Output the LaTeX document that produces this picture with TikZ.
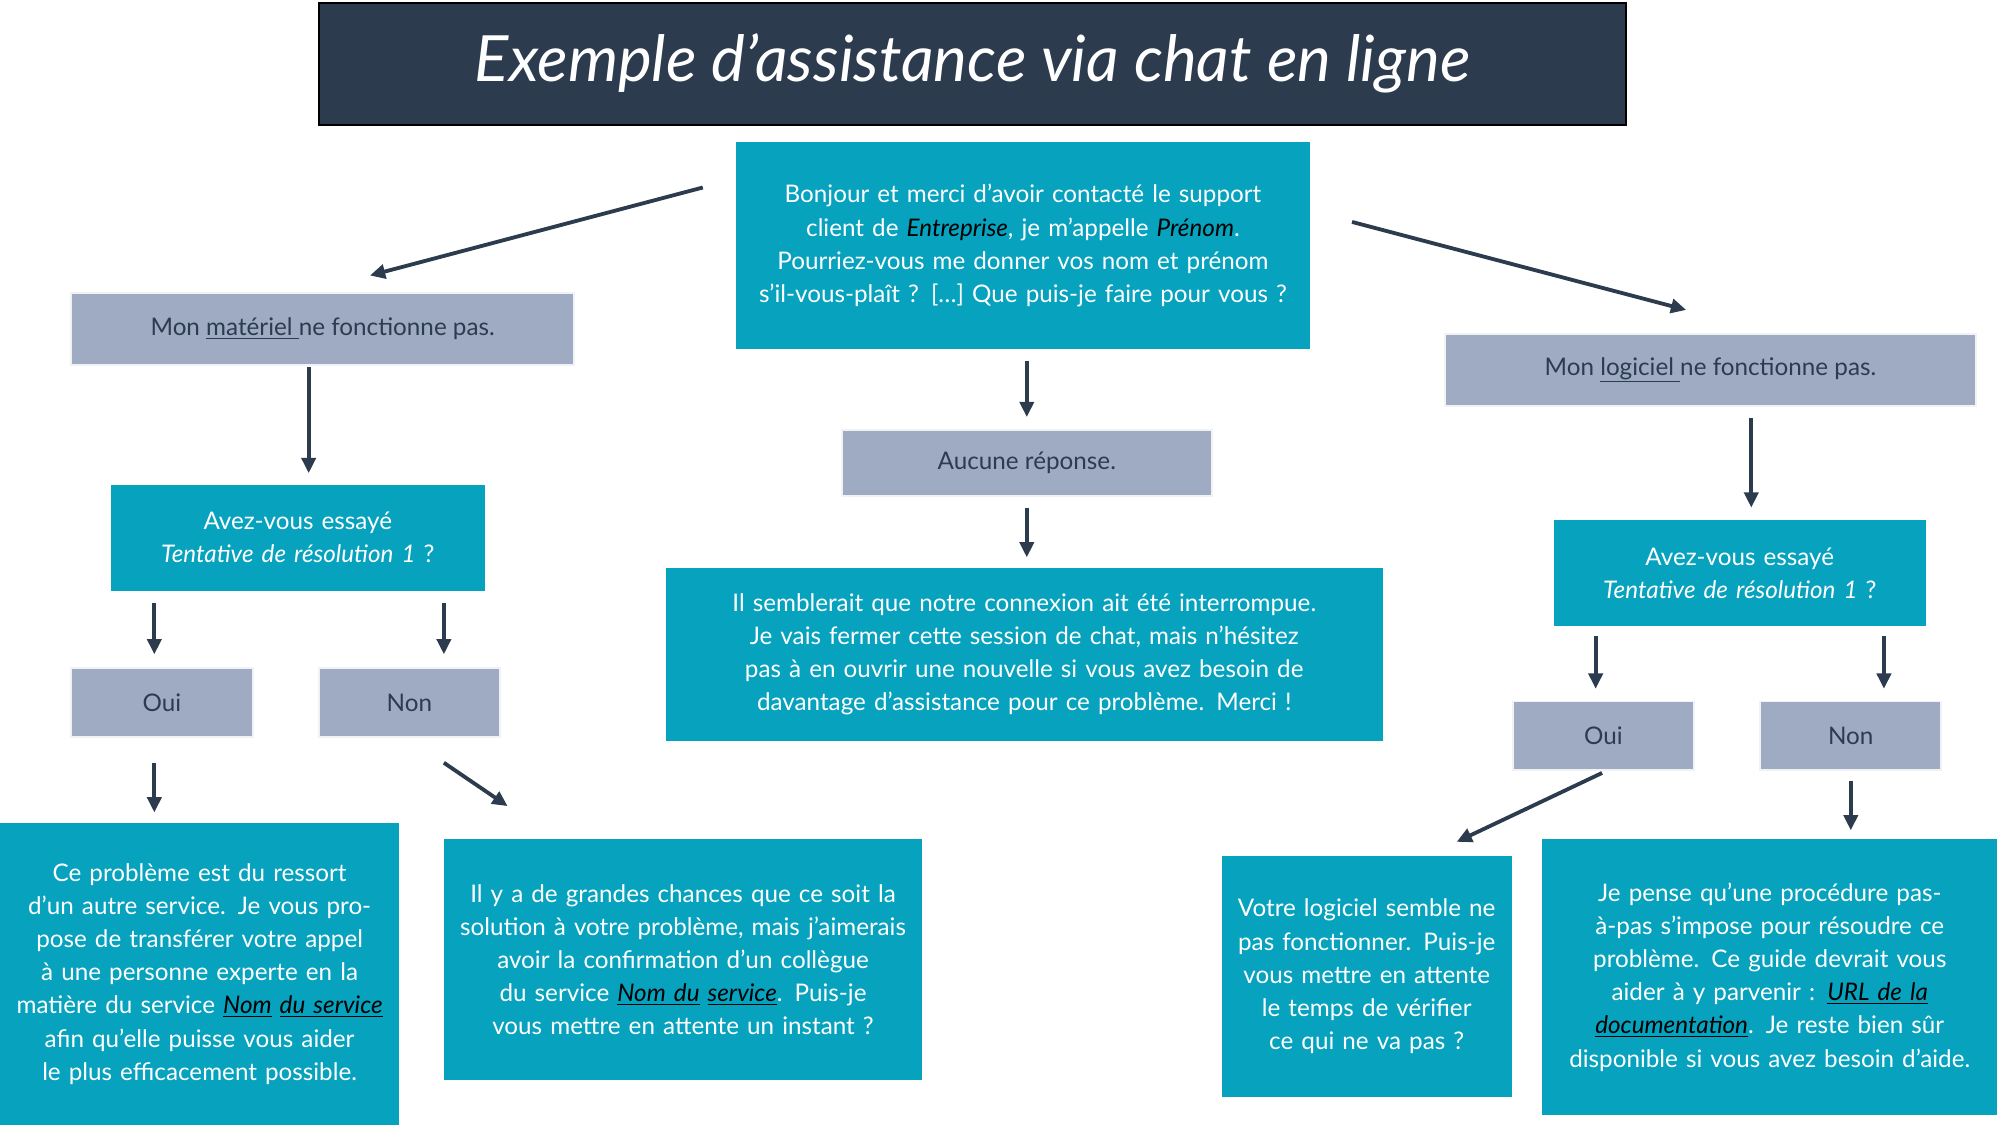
\documentclass[tikz,border=0pt]{standalone}
\usepackage{fontspec}
\setmainfont{Lato}
\usetikzlibrary{arrows.meta}
\definecolor{navy}{HTML}{2D3B4F}
\definecolor{tealb}{HTML}{06A2BE}
\definecolor{greyb}{HTML}{9EABC3}
\begin{document}
\begin{tikzpicture}[x=1pt,y=-1pt,
  box/.style={rectangle,inner sep=4pt,align=center,font=\fontsize{19}{26}\selectfont},
  tb/.style={box,fill=tealb,text=white},
  gb/.style={box,fill=greyb,text=navy,draw=white!85!greyb,line width=1.5pt},
  arr/.style={-{Triangle[length=12pt,width=11pt]},line width=3pt,draw=navy}]
\useasboundingbox (0,0) rectangle (1568,882);
\fill[white] (0,0) rectangle (1568,882);
\node[rectangle,fill=navy,draw=black,line width=1.5pt,minimum width=1025pt,minimum height=96pt,text=white,font=\fontsize{50}{60}\selectfont\itshape] (title) at (762.5,50) {Exemple d’assistance via chat en ligne};
\node[tb,minimum width=450pt,minimum height=163pt,text width=430pt] (top) at (802,192.5) {Bonjour et merci d’avoir contacté le support client de \textcolor{black}{\textit{Entreprise}}, je m’appelle \textcolor{black}{\textit{Prénom}}. Pourriez-vous me donner vos nom et prénom s’il-vous-plaît ? […] Que puis-je faire pour vous ?};
\node[gb,minimum width=394pt,minimum height=56pt] (mat) at (253,258) {Mon \underline{matériel }ne fonctionne pas.};
\node[gb,minimum width=416pt,minimum height=56pt] (log) at (1341,290) {Mon \underline{logiciel }ne fonctionne pas.};
\node[gb,minimum width=290pt,minimum height=52pt] (auc) at (805,363) {Aucune réponse.};
\node[tb,minimum width=293pt,minimum height=83pt,text width=280pt] (avL) at (233.5,421.5) {Avez-vous essayé\\\textit{Tentative de résolution 1} ?};
\node[tb,minimum width=292pt,minimum height=83pt,text width=280pt] (avR) at (1364,449.5) {Avez-vous essayé\\\textit{Tentative de résolution 1} ?};
\node[tb,minimum width=562pt,minimum height=136pt,text width=545pt] (sem) at (803,513) {Il semblerait que notre connexion ait été interrompue. Je vais fermer cette session de chat, mais n’hésitez pas à en ouvrir une nouvelle si vous avez besoin de davantage d’assistance pour ce problème. Merci !};
\node[gb,minimum width=142pt,minimum height=54pt] (ouiL) at (127,551) {Oui};
\node[gb,minimum width=142pt,minimum height=54pt] (nonL) at (321,551) {Non};
\node[gb,minimum width=142pt,minimum height=54pt] (ouiR) at (1257,577) {Oui};
\node[gb,minimum width=142pt,minimum height=54pt] (nonR) at (1451,577) {Non};
\node[tb,minimum width=313pt,minimum height=237pt,text width=305pt] (ce) at (156.5,763.5) {Ce problème est du ressort d’un autre service. Je vous propose de transférer votre appel à une personne experte en la matière du service \textcolor{black}{\textit{\underline{Nom}}} \textcolor{black}{\textit{\underline{du service}}} afin qu’elle puisse vous aider le plus efficacement possible.};
\node[tb,minimum width=375pt,minimum height=189pt,text width=355pt] (ilya) at (535.5,752.5) {Il y a de grandes chances que ce soit la solution à votre problème, mais j’aimerais avoir la confirmation d’un collègue du service \textcolor{black}{\textit{\underline{Nom du}}} \textcolor{black}{\textit{\underline{service}}}. Puis-je vous mettre en attente un instant ?};
\node[tb,minimum width=227pt,minimum height=189pt,text width=215pt] (votre) at (1071.5,765.5) {Votre logiciel semble ne pas fonctionner. Puis-je vous mettre en attente le temps de vérifier ce qui ne va pas ?};
\node[tb,minimum width=357pt,minimum height=216pt,text width=340pt] (je) at (1387.5,766) {Je pense qu’une procédure pas-à-pas s’impose pour résoudre ce problème. Ce guide devrait vous aider à y parvenir : \textcolor{black}{\textit{\underline{URL de la}}} \textcolor{black}{\textit{\underline{documentation}}}. Je reste bien sûr disponible si vous avez besoin d’aide.};
\draw[arr] (551,147) -- (290,216);
\draw[arr] (1060,174) -- (1322,243);
\draw[arr] (805,283) -- (805,327);
\draw[arr] (242,288) -- (242,371);
\draw[arr] (805,398) -- (805,437);
\draw[arr] (121,473) -- (121,513);
\draw[arr] (348,473) -- (348,513);
\draw[arr] (1373,328) -- (1373,398);
\draw[arr] (1251,499) -- (1251,540);
\draw[arr] (1477,499) -- (1477,540);
\draw[arr] (121,598) -- (121,637);
\draw[arr] (348,598) -- (398,632);
\draw[arr] (1256,606) -- (1142,660);
\draw[arr] (1451,612) -- (1451,651);
\end{tikzpicture}
\end{document}
